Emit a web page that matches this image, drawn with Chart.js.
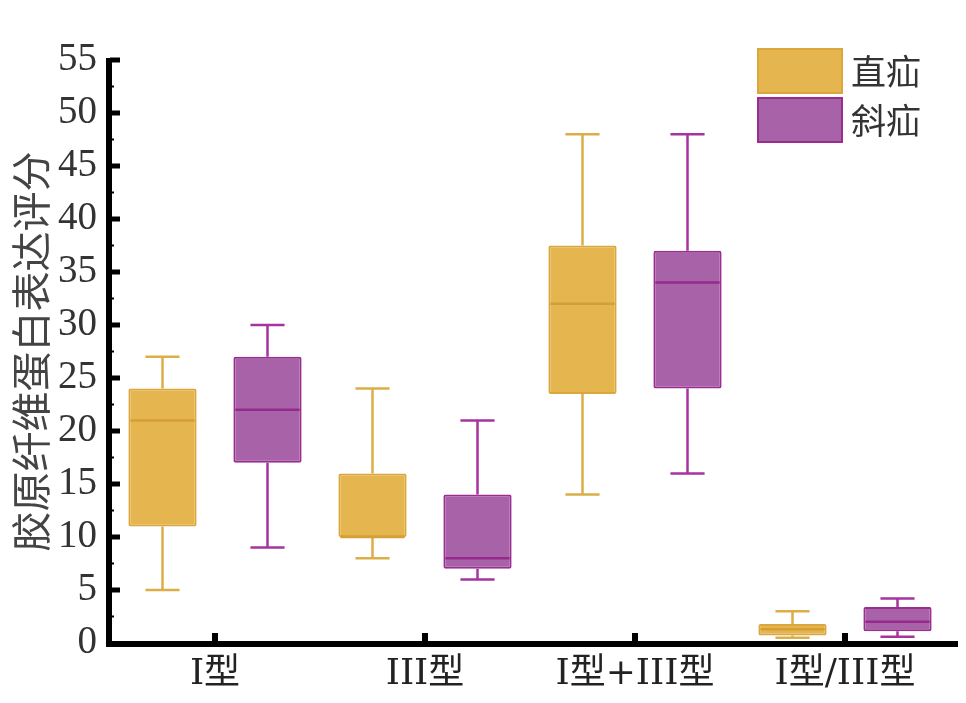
<!DOCTYPE html>
<html>
<head>
<meta charset="utf-8">
<script src="https://cdn.jsdelivr.net/npm/chart.js@4.4.0/dist/chart.umd.min.js"></script>
<style>
  body { margin: 0; background: #fff; }
  #wrap { position: relative; width: 966px; height: 703px; }
  .legend { position: absolute; left: 757px; font-family: "Noto Sans CJK SC", sans-serif; font-size: 35px; color: #333; }
  .legend .sw { position: absolute; left: 0; width: 86px; height: 46px; box-sizing: border-box; border: 2px solid; }
  .legend .lb { position: absolute; left: 94px; top: -1px; line-height: 46px; white-space: nowrap; }
</style>
</head>
<body>
<div id="wrap">
  <canvas id="boxChart" width="966" height="703"></canvas>
  <div class="legend" style="top:48px">
    <div class="sw" style="background:#e5b54f;border-color:#dba63c"></div><div class="lb">直疝</div>
  </div>
  <div class="legend" style="top:97px">
    <div class="sw" style="background:#a862a8;border-color:#9a2c92"></div><div class="lb">斜疝</div>
  </div>
</div>
<script>
// categories and box statistics
const categories = ['I型', 'III型', 'I型+III型', 'I型/III型'];
const seriesNames = ['直疝', '斜疝'];

const directMin = [5, 8, 14, 0.5];
const directQ1 = [11, 10, 23.5, 0.7];
const directMedian = [21, 10, 32, 1.3];
const directQ3 = [24, 16, 37.5, 1.8];
const directMax = [27, 24, 48, 3];

const indirectMin = [9, 6, 16, 0.6];
const indirectQ1 = [17, 7, 24, 1.1];
const indirectMedian = [22, 8, 34, 2];
const indirectQ3 = [27, 14, 37, 3.4];
const indirectMax = [30, 21, 48, 4.2];

const yTicks = [0, 5, 10, 15, 20, 25, 30, 35, 40, 45, 50, 55];

const stats = [
    { min: directMin, med: directMedian, max: directMax, line: '#dcae48', medLine: '#d49f34' },
    { min: indirectMin, med: indirectMedian, max: indirectMax, line: '#a8339f', medLine: '#962a8c' }
];

// whiskers, caps and medians drawn from the bar elements + y scale
const whiskerPlugin = {
    id: 'whiskers',
    afterDatasetsDraw(chart) {
        const ctx = chart.ctx;
        const y = chart.scales.y;
        chart.data.datasets.forEach((ds, di) => {
            const s = stats[di];
            chart.getDatasetMeta(di).data.forEach((bar, i) => {
                const q = ds.data[i];
                const x = bar.x;
                const half = bar.width / 2;
                const cap = bar.width / 4;
                ctx.save();
                ctx.strokeStyle = s.line;
                ctx.lineWidth = 2.5;
                ctx.beginPath();
                ctx.moveTo(x, y.getPixelForValue(q[1]));
                ctx.lineTo(x, y.getPixelForValue(s.max[i]));
                ctx.moveTo(x - cap, y.getPixelForValue(s.max[i]));
                ctx.lineTo(x + cap, y.getPixelForValue(s.max[i]));
                ctx.moveTo(x, y.getPixelForValue(q[0]));
                ctx.lineTo(x, y.getPixelForValue(s.min[i]));
                ctx.moveTo(x - cap, y.getPixelForValue(s.min[i]));
                ctx.lineTo(x + cap, y.getPixelForValue(s.min[i]));
                ctx.stroke();
                ctx.strokeStyle = s.medLine;
                ctx.beginPath();
                ctx.moveTo(x - half + 2, y.getPixelForValue(s.med[i]));
                ctx.lineTo(x + half - 2, y.getPixelForValue(s.med[i]));
                ctx.stroke();
                ctx.restore();
            });
        });
    }
};

// thick black axes with inward ticks
const axesPlugin = {
    id: 'axes',
    afterDraw(chart) {
        const ctx = chart.ctx;
        const a = chart.chartArea;
        const x = chart.scales.x;
        const y = chart.scales.y;
        ctx.save();
        ctx.fillStyle = '#000';
        ctx.fillRect(a.left - 4, a.top - 2, 6, a.bottom - a.top + 5);
        ctx.fillRect(a.left - 4, a.bottom - 2, a.right - a.left + 12, 6);
        yTicks.forEach(v => {
            if (v === 0) return;
            const py = y.getPixelForValue(v);
            ctx.fillRect(a.left, py - 2.5, 10, 5);
            const pm = y.getPixelForValue(v - 2.5);
            ctx.fillRect(a.left, pm - 1, 4, 2);
        });
        categories.forEach((c, i) => {
            const px = x.getPixelForValue(i);
            ctx.fillRect(px - 3, a.bottom - 10, 6, 10);
        });
        ctx.restore();
    }
};

const ctx = document.getElementById('boxChart').getContext('2d');
new Chart(ctx, {
    type: 'bar',
    data: {
        labels: categories,
        datasets: [{
            label: seriesNames[0],
            data: directQ1.map((v, i) => [v, directQ3[i]]),
            backgroundColor: '#e5b54f',
            borderColor: '#dba63c',
            borderWidth: 2,
            borderSkipped: false,
            borderRadius: 2
        }, {
            label: seriesNames[1],
            data: indirectQ1.map((v, i) => [v, indirectQ3[i]]),
            backgroundColor: '#a862a8',
            borderColor: '#9a2c92',
            borderWidth: 2,
            borderSkipped: false,
            borderRadius: 2
        }]
    },
    options: {
        responsive: false,
        animation: false,
        layout: { padding: { top: 60, right: 16, left: 0, bottom: 0 } },
        categoryPercentage: 1,
        barPercentage: 0.65,
        plugins: {
            legend: { display: false },
            tooltip: { enabled: false }
        },
        scales: {
            x: {
                grid: { display: false, drawTicks: false },
                border: { display: false },
                ticks: {
                    color: '#222',
                    padding: 10,
                    font: { family: '"DejaVu Serif", "Noto Sans CJK SC", serif', size: 36 }
                },
                afterFit(scale) { scale.height = 60; }
            },
            y: {
                min: 0,
                max: 55,
                afterBuildTicks(scale) { scale.ticks = yTicks.map(v => ({ value: v })); },
                grid: { display: false, drawTicks: false },
                border: { display: false },
                ticks: {
                    color: '#333',
                    padding: 13,
                    font: { family: '"Liberation Serif", serif', size: 39 }
                },
                title: {
                    display: true,
                    text: '胶原纤维蛋白表达评分',
                    color: '#444',
                    padding: { top: 7, bottom: 0 },
                    font: { family: '"Noto Sans CJK SC", sans-serif', size: 40 }
                },
                afterFit(scale) { scale.width = 110; }
            }
        }
    },
    plugins: [whiskerPlugin, axesPlugin]
});
</script>
</body>
</html>
